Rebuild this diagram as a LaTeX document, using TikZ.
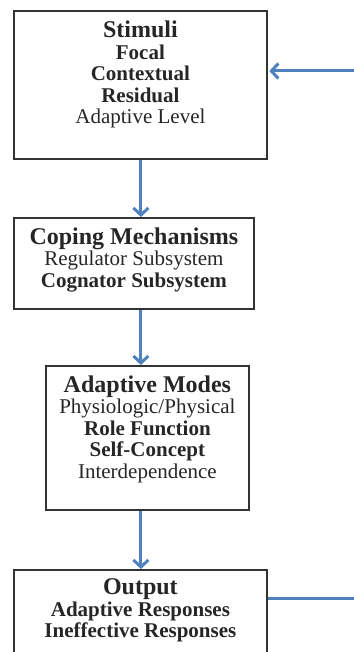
\documentclass[tikz,border=0pt]{standalone}
\usepackage{fontspec}
\setmainfont{Liberation Serif}
\usetikzlibrary{arrows.meta,positioning}

\begin{document}
\begin{tikzpicture}[
        x=1pt, y=1pt,
        box/.style={draw=black!80, line width=1.8pt, minimum height=#1, anchor=north west, inner sep=0pt},
        boxtext/.style={anchor=north, align=center, inner sep=0pt, text=black!85,
            font=\fontsize{21}{21.5}\selectfont},
        flow/.style={-{Straight Barb[length=7pt,width=15pt]}, line width=3pt, draw=flowblue},
        back/.style={line width=3pt, draw=flowblue}
    ]
    \definecolor{flowblue}{RGB}{79,129,189}
    \newcommand{\boxtitle}[1]{\textbf{\fontsize{24}{21.5}\selectfont #1}}

    \useasboundingbox (0,0) rectangle (353,-652);

    % Boxes
    \node[box=148pt, minimum width=253pt] (stimuli) at (13,-10) {};
    \node[box=91pt, minimum width=240pt] (coping) at (13,-217) {};
    \node[box=144pt, minimum width=203pt] (modes) at (45,-365) {};
    \node[box=100pt, minimum width=253pt] (output) at (13,-569) {};

    % Box texts
    \node[boxtext] (stimulitext) at ([yshift=-11pt]stimuli.north) {
        \boxtitle{Stimuli}\\ \textbf{Focal}\\ \textbf{Contextual}\\ \textbf{Residual}\\ Adaptive Level};
    \node[boxtext] (copingtext) at ([yshift=-10.5pt]coping.north) {
        \boxtitle{Coping Mechanisms}\\ Regulator Subsystem\\ \textbf{Cognator Subsystem}};
    \node[boxtext] (modestext) at ([yshift=-10.5pt]modes.north) {
        \boxtitle{Adaptive Modes}\\ Physiologic/Physical\\ \textbf{Role Function}\\ \textbf{Self-Concept}\\ Interdependence};
    \node[boxtext] (outputtext) at ([yshift=-9.5pt]output.north) {
        \boxtitle{Output}\\ \textbf{Adaptive Responses}\\ \textbf{Ineffective Responses}};

    % Feedback ends
    \coordinate (fbin) at (362,-71);
    \coordinate (fbout) at (362,-598);

    % Arrows
    \draw[flow] ([xshift=0.5pt]stimuli.south) -- ([xshift=0.5pt]stimuli.south |- coping.north);
    \draw[flow] ([xshift=0.5pt]stimuli.south |- coping.south) -- ([xshift=0.5pt]stimuli.south |- modes.north);
    \draw[flow] ([xshift=0.5pt]stimuli.south |- modes.south) -- ([xshift=0.5pt]stimuli.south |- output.north);
    \draw[back] (fbout -| output.east) -- (fbout);
    \draw[flow] (fbin) -- ([xshift=1.5pt]fbin -| stimuli.east);

\end{tikzpicture}
\end{document}
